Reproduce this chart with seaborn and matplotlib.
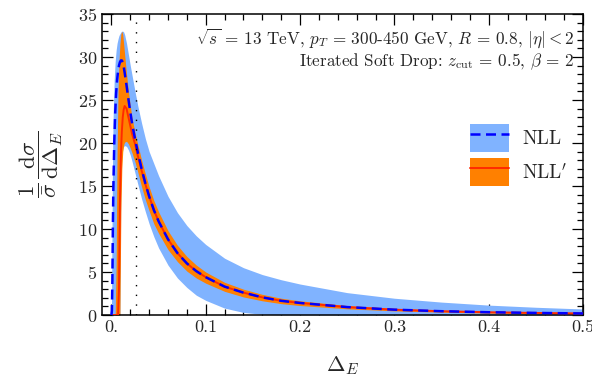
import numpy as np
import pandas as pd
import matplotlib
matplotlib.use("Agg")
import matplotlib.pyplot as plt
import seaborn as sns
from matplotlib.patches import Patch
from matplotlib.lines import Line2D

# ---------------- data ----------------
delta_e = [0.0, 0.0005, 0.001, 0.0015, 0.002, 0.003, 0.004, 0.005, 0.006, 0.007,
           0.008, 0.009, 0.010, 0.011, 0.012, 0.013, 0.014, 0.016, 0.018, 0.020,
           0.022, 0.025, 0.028, 0.032, 0.036, 0.040, 0.045, 0.050, 0.060, 0.070,
           0.080, 0.090, 0.100, 0.120, 0.140, 0.160, 0.180, 0.200, 0.250, 0.300,
           0.350, 0.400, 0.450, 0.500]

nll_mid = [0.0, 0.5, 4.0, 10.0, 14.5, 20.0, 23.5, 25.8, 27.3, 28.3,
           29.0, 29.4, 29.6, 29.6, 29.4, 28.9, 28.2, 26.7, 25.1, 23.6,
           22.2, 20.5, 18.9, 17.0, 15.3, 13.8, 12.2, 10.9, 8.8, 7.2,
           6.0, 5.1, 4.4, 3.3, 2.6, 2.05, 1.65, 1.4, 0.92, 0.62,
           0.44, 0.32, 0.24, 0.18]
nll_hi = [0.0, 8.0, 16.0, 21.0, 24.0, 27.5, 29.5, 30.8, 31.6, 32.1,
          32.5, 32.7, 32.9, 33.0, 33.0, 32.9, 32.6, 31.6, 30.3, 29.0,
          27.8, 26.0, 24.3, 22.3, 20.5, 19.0, 17.6, 16.2, 13.8, 11.9,
          10.4, 9.2, 8.2, 6.6, 5.5, 4.7, 4.1, 3.6, 2.6, 1.95,
          1.5, 1.15, 0.9, 0.7]
nll_lo = [0.0, 0.0, 0.0, 0.0, 0.0, 0.0, 0.0, 0.0, 0.0, 0.0,
          0.0, 0.0, 16.0, 18.5, 19.3, 19.6, 19.7, 19.6, 19.2, 18.6,
          17.8, 16.5, 15.2, 13.5, 12.0, 10.6, 9.1, 7.8, 5.8, 4.3,
          3.2, 2.3, 1.7, 0.8, 0.3, 0.08, 0.03, 0.02, 0.01, 0.01,
          0.01, 0.01, 0.01, 0.01]

nllp_mid = [0.0, 0.0, 0.0, 0.0, 0.0, 0.0, 0.0, 0.0, 0.0, 0.0,
            3.0, 13.0, 18.5, 21.3, 23.0, 23.9, 24.3, 24.0, 23.0, 22.0,
            21.0, 19.9, 18.5, 16.8, 15.2, 13.8, 12.2, 10.9, 8.8, 7.2,
            6.0, 5.1, 4.4, 3.3, 2.6, 2.05, 1.65, 1.4, 0.92, 0.62,
            0.44, 0.32, 0.24, 0.18]
nllp_hi = [0.0, 0.0, 0.0, 0.0, 0.0, 0.0, 0.0, 6.0, 19.0, 26.0,
           29.5, 31.5, 32.7, 33.0, 32.6, 31.5, 30.3, 28.0, 26.0, 24.3,
           22.8, 21.2, 19.8, 18.0, 16.4, 14.9, 13.3, 12.0, 9.8, 8.1,
           6.8, 5.8, 5.0, 3.8, 3.0, 2.4, 1.95, 1.65, 1.1, 0.76,
           0.55, 0.42, 0.33, 0.27]
nllp_lo = [0.0, 0.0, 0.0, 0.0, 0.0, 0.0, 0.0, 0.0, 0.0, 0.0,
           0.0, 0.0, 12.0, 17.0, 19.0, 19.8, 20.1, 20.2, 19.9, 19.4,
           18.8, 17.8, 16.6, 14.9, 13.4, 12.1, 10.6, 9.5, 7.6, 6.2,
           5.1, 4.3, 3.7, 2.75, 2.1, 1.65, 1.32, 1.1, 0.72, 0.48,
           0.33, 0.22, 0.15, 0.1]

cut_position = 0.0265

x_ticks = [0.0, 0.1, 0.2, 0.3, 0.4, 0.5]
x_tick_labels = ["0.", "0.1", "0.2", "0.3", "0.4", "0.5"]
y_ticks = [0, 5, 10, 15, 20, 25, 30, 35]
series_labels = ["NLL", "NLL$'$"]
annot_line1 = r"$\sqrt{s}$ = 13 TeV, $p_T$ = 300-450 GeV, $R$ = 0.8, $|\eta| < 2$"
annot_line2 = r"Iterated Soft Drop: $z_{\rm cut}$ = 0.5, $\beta$ = 2"

# ---------------- style ----------------
sns.set_style("ticks")
plt.rcParams["font.family"] = ["cmr10", "DejaVu Serif"]
plt.rcParams["mathtext.fontset"] = "cm"
plt.rcParams["axes.formatter.use_mathtext"] = True
plt.rcParams["axes.unicode_minus"] = False

BLUE_FILL = "#80b3ff"
ORANGE_FILL = "#ff8000"
BLUE_LINE = "#0000ff"
RED_LINE = "#ff2a00"

W, H = 592, 388
fig = plt.figure(figsize=(W / 100, H / 100), dpi=100)
L, R, T, B = 102, 583, 14, 315
ax = fig.add_axes([L / W, 1 - B / H, (R - L) / W, (B - T) / H])

df = pd.DataFrame({"x": delta_e, "nll": nll_mid, "nll_hi": nll_hi, "nll_lo": nll_lo,
                   "nllp": nllp_mid, "nllp_hi": nllp_hi, "nllp_lo": nllp_lo})

ax.fill_between(df["x"], df["nll_lo"], df["nll_hi"], color=BLUE_FILL, lw=0, zorder=1)
ax.fill_between(df["x"], df["nllp_lo"], df["nllp_hi"], color=ORANGE_FILL, lw=0, zorder=2)
sns.lineplot(data=df, x="x", y="nllp", ax=ax, color=RED_LINE, lw=1.4, zorder=3)
sns.lineplot(data=df, x="x", y="nll", ax=ax, color=BLUE_LINE, lw=1.8, zorder=4)
ax.lines[-1].set_dashes([4, 2.2])
ax.axvline(cut_position, color="black", lw=1.0, ls=(0, (1, 6)), zorder=5)

ax.set_xlim(-0.01, 0.5)
ax.set_ylim(0, 35)
ax.set_xticks(x_ticks)
ax.set_xticklabels(x_tick_labels)
ax.set_yticks(y_ticks)
ax.set_xticks(np.arange(0, 0.501, 0.02), minor=True)
ax.set_yticks(np.arange(0, 35.1, 1), minor=True)
ax.tick_params(which="both", direction="in", top=True, right=True, labelsize=13,
               color="black", width=0.9)
ax.tick_params(which="major", length=8)
ax.tick_params(which="minor", length=4)
for s in ax.spines.values():
    s.set_linewidth(1.1)
    s.set_color("black")

ax.set_xlabel(r"$\Delta_E$", fontsize=16, labelpad=14)
ax.set_ylabel(r"$\dfrac{1}{\bar{\sigma}}\,\dfrac{\mathrm{d}\sigma}{\mathrm{d}\Delta_E}$",
              fontsize=16.5, labelpad=9)

ax.text(0.982, 0.92, annot_line1, transform=ax.transAxes, ha="right", va="center",
        fontsize=12.3)
ax.text(0.982, 0.84, annot_line2, transform=ax.transAxes, ha="right", va="center",
        fontsize=12.3)

handles = [(Patch(facecolor=BLUE_FILL, edgecolor="none"),
            Line2D([], [], color=BLUE_LINE, lw=1.8, ls=(0, (4, 2.2)))),
           (Patch(facecolor=ORANGE_FILL, edgecolor="none"),
            Line2D([], [], color=RED_LINE, lw=1.4))]
ax.legend(handles, series_labels, loc="upper left",
          bbox_to_anchor=(470 / W, 1 - 124 / H), bbox_transform=fig.transFigure,
          frameon=False, fontsize=14, handlelength=2.0, handleheight=1.8,
          labelspacing=0.35, handletextpad=0.7, borderpad=0, borderaxespad=0)

fig.savefig("out.png", dpi=100)
